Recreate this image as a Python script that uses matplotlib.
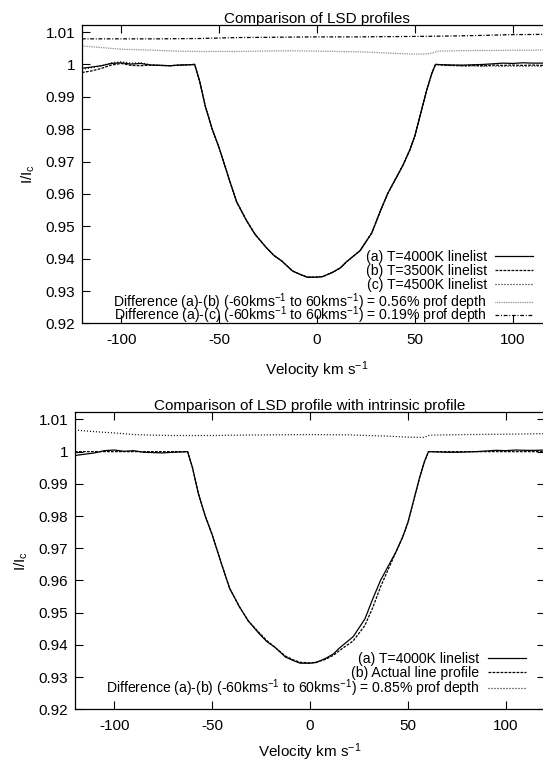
import numpy as np
import matplotlib
matplotlib.use("Agg")
import matplotlib.pyplot as plt
from matplotlib.legend import Legend
from matplotlib.ticker import FuncFormatter, MultipleLocator

plt.rcParams['font.family'] = ['Liberation Sans', 'DejaVu Sans']
plt.rcParams['mathtext.default'] = 'regular'
plt.rcParams['axes.unicode_minus'] = False
plt.rcParams['font.size'] = 11

FS = 11
KEY_FS = 10.1

# ---------------------------------
# Data
# ---------------------------------
# (a) T=4000K linelist (same LSD profile in both panels)
vel_a = [-120, -115, -110, -105, -100, -95, -90, -85, -80, -75, -70, -65, -62.5,
         -60, -57, -53.5, -50, -45, -41, -36, -31.6, -26, -22, -18, -12.5, -8, -5,
         0, 3, 8, 12, 15, 18, 22, 28, 32, 36, 40, 44, 47.4, 50, 53, 56, 58.5, 60.5,
         65, 70, 75, 80, 85, 90, 95, 100, 105, 110, 115, 120]
int_a = [0.9988, 0.9992, 0.9996, 1.0003, 1.0005, 1.0001, 1.0003, 0.9998, 0.9997, 0.9996, 0.9998, 0.9999, 1.0,
         0.995, 0.987, 0.980, 0.9743, 0.9648, 0.9575, 0.9518, 0.9475, 0.9435, 0.941, 0.9393, 0.9362, 0.935, 0.9343,
         0.9343, 0.9345, 0.9358, 0.9372, 0.939, 0.9405, 0.9425, 0.948, 0.9542, 0.960, 0.9645, 0.969, 0.9736, 0.978, 0.985, 0.992, 0.997, 1.0,
         0.9999, 0.9998, 0.9998, 0.9999, 1.0, 1.0002, 1.0004, 1.0003, 1.0005, 1.0004, 1.0004, 1.0005]

# (b) T=3500K linelist
vel_b = [-120, -115, -110, -105, -100, -95, -90, -85, -80, -75, -70, -65, -62.5,
         -60, -57, -53.5, -50, -45, -41, -36, -31.6, -26, -22, -18, -12.5, -8, -5,
         0, 3, 8, 12, 15, 18, 22, 28, 32, 36, 40, 44, 47.4, 50, 53, 56, 58.5, 60.5,
         65, 70, 75, 80, 85, 90, 95, 100, 105, 110, 115, 120]
int_b = [0.9975, 0.9980, 0.9988, 0.9998, 1.0003, 0.9997, 0.9996, 0.9998, 0.9997, 0.9996, 0.9998, 0.9999, 1.0,
         0.995, 0.987, 0.980, 0.9743, 0.9648, 0.9575, 0.9518, 0.9475, 0.9435, 0.941, 0.9393, 0.9362, 0.935, 0.9343,
         0.9343, 0.9345, 0.9358, 0.9372, 0.939, 0.9405, 0.9425, 0.948, 0.9542, 0.960, 0.9645, 0.969, 0.9736, 0.978, 0.985, 0.992, 0.997, 1.0,
         0.9998, 0.9997, 0.9996, 0.9997, 0.9996, 0.9998, 0.9997, 0.9998, 0.9997, 0.9998, 0.9997, 0.9998]

# (c) T=4500K linelist
vel_c = vel_b
int_c = [0.9985, 0.9990, 0.9996, 1.0005, 1.0008, 1.0004, 1.0005, 0.9999, 0.9997, 0.9996, 0.9998, 0.9999, 1.0,
         0.995, 0.987, 0.980, 0.9743, 0.9648, 0.9575, 0.9518, 0.9475, 0.9435, 0.941, 0.9393, 0.9362, 0.935, 0.9343,
         0.9343, 0.9345, 0.9358, 0.9372, 0.939, 0.9405, 0.9425, 0.948, 0.9542, 0.960, 0.9645, 0.969, 0.9736, 0.978, 0.985, 0.992, 0.997, 1.0,
         0.9997, 0.9996, 0.9995, 0.9995, 0.9994, 0.9995, 0.9994, 0.9995, 0.9994, 0.9995, 0.9994, 0.9995]

# Difference (a)-(b), offset to sit above the continuum
vel_dab = [-120, -110, -100, -90, -80, -70, -60, -50, -40, -30, -20, -10, 0, 10, 20,
           30, 40, 50, 55, 58, 62, 70, 80, 90, 100, 110, 120]
int_dab = [1.0057, 1.0052, 1.0047, 1.0045, 1.0043, 1.0041, 1.0040, 1.0040, 1.0040, 1.0041, 1.0042, 1.0042, 1.0041, 1.0040, 1.0039,
           1.0037, 1.0034, 1.0032, 1.0032, 1.0034, 1.0041, 1.0042, 1.0043, 1.0043, 1.0044, 1.0044, 1.0045]

# Difference (a)-(c)
vel_dac = [-120, -100, -80, -60, -40, -20, 0, 20, 40, 60, 80, 100, 120]
int_dac = [1.0079, 1.0079, 1.0079, 1.0080, 1.0083, 1.0084, 1.0085, 1.0085, 1.0086, 1.0087, 1.0089, 1.0092, 1.0093]

# Bottom panel: (b) actual line profile
vel_true = [-120, -62.5, -60, -57, -53.5, -50, -45, -41, -36, -31.6, -26, -22, -18, -12.5, -8, -5,
            0, 3, 8, 12, 15, 18, 22, 28, 32, 36, 40, 44, 47.4, 50, 53, 56, 58.5, 60.5, 120]
int_true = [1.0, 1.0, 0.995, 0.987, 0.980, 0.9743, 0.9648, 0.9575, 0.9518, 0.9475, 0.9438, 0.9413, 0.9393, 0.9365, 0.9352, 0.9346,
            0.9344, 0.9346, 0.9355, 0.9368, 0.9382, 0.9395, 0.9412, 0.946, 0.9515, 0.958, 0.9635, 0.969, 0.9736, 0.978, 0.985, 0.992, 0.997, 1.0, 1.0]

# Bottom panel: difference (a)-(b)
vel_dtrue = [-120, -110, -100, -90, -80, -70, -60, -50, -40, -20, 0, 20, 40, 50, 58, 61, 70, 80, 100, 120]
int_dtrue = [1.0067, 1.0062, 1.0058, 1.0053, 1.0051, 1.0050, 1.0050, 1.0050, 1.0051, 1.0052, 1.0053, 1.0052, 1.0048, 1.0045, 1.0044, 1.0051, 1.0052, 1.0053, 1.0054, 1.0056]

labels_top = ["(a) T=4000K linelist", "(b) T=3500K linelist", "(c) T=4500K linelist",
              "Difference (a)-(b) (-60kms$^{-1}$ to 60kms$^{-1}$) = 0.56% prof depth",
              "Difference (a)-(c) (-60kms$^{-1}$ to 60kms$^{-1}$) = 0.19% prof depth"]
labels_bot = ["(a) T=4000K linelist", "(b) Actual line profile",
              "Difference (a)-(b) (-60kms$^{-1}$ to 60kms$^{-1}$) = 0.85% prof depth"]

SOLID = '-'
DASHED = (0, (2.2, 1.0))
DOTTED = (0, (0.8, 1.6))
FINEDOT = (0, (0.6, 0.8))
DASHDOT = (0, (3.0, 1.4, 0.8, 1.4))


# ---------------------------------
# Axis styling (gnuplot look)
# ---------------------------------
def style_axes(ax, title, ymax, xpad):
    ax.set_xlim(-120, 120)
    ax.set_ylim(0.92, ymax)
    ax.xaxis.set_major_locator(MultipleLocator(50))
    ax.yaxis.set_major_locator(MultipleLocator(0.01))
    ax.yaxis.set_major_formatter(FuncFormatter(lambda v, p: '%g' % round(v, 4)))
    ax.tick_params(direction='in', length=5.8, width=0.8, top=True, right=True, labelsize=FS)
    ax.tick_params(axis='x', pad=7)
    ax.tick_params(axis='y', pad=5)
    for s in ax.spines.values():
        s.set_linewidth(0.9)
    ax.set_title(title, fontsize=FS, pad=1.5)
    ax.set_xlabel('Velocity km s$^{-1}$', fontsize=FS, labelpad=xpad)
    ax.set_ylabel('I/I$_c$', fontsize=FS, labelpad=6)


# one key row per entry, right aligned like gnuplot's key
def add_key(ax, lines, labels, xs, ys):
    for ln, lab, y in zip(lines, labels, ys):
        leg = Legend(ax, [ln], [lab], loc='center right', bbox_to_anchor=(xs, y), frameon=False,
                     markerfirst=False, borderpad=0, handlelength=2.7, handletextpad=0.6,
                     fontsize=KEY_FS, borderaxespad=0)
        ax.add_artist(leg)


fig = plt.figure(figsize=(5.43, 7.62), dpi=100)

# ---------------------------------
# Top panel
# ---------------------------------
ax1 = fig.add_axes([0.151, 0.5755, 0.8656, 0.3918])
l1, = ax1.plot(vel_a, int_a, color='black', lw=0.9, ls=SOLID)
l2, = ax1.plot(vel_b, int_b, color='black', lw=0.9, ls=DASHED)
l3, = ax1.plot(vel_c, int_c, color='black', lw=0.9, ls=DOTTED)
l4, = ax1.plot(vel_dab, int_dab, color='0.45', lw=0.9, ls=FINEDOT)
l5, = ax1.plot(vel_dac, int_dac, color='black', lw=0.9, ls=DASHDOT)
style_axes(ax1, 'Comparison of LSD profiles', 1.0122, 9)
add_key(ax1, [l1, l2, l3, l4, l5], labels_top, 0.96, [0.2227, 0.1758, 0.1289, 0.0700, 0.0265])

# ---------------------------------
# Bottom panel
# ---------------------------------
ax2 = fig.add_axes([0.1381, 0.0692, 0.8656, 0.3901])
m1, = ax2.plot(vel_a, int_a, color='black', lw=0.9, ls=SOLID)
m2, = ax2.plot(vel_true, int_true, color='black', lw=0.9, ls=DASHED)
m3, = ax2.plot(vel_dtrue, int_dtrue, color='black', lw=0.9, ls=DOTTED)
style_axes(ax2, 'Comparison of LSD profile with intrinsic profile', 1.0123, 6)
add_key(ax2, [m1, m2, m3], labels_bot, 0.959, [0.169, 0.122, 0.070])

fig.savefig('out.png', dpi=100)
